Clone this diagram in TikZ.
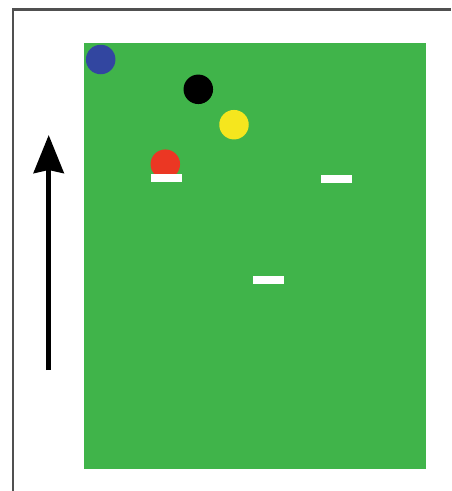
\documentclass[tikz,border=0pt]{standalone}
\usetikzlibrary{arrows.meta}
\definecolor{field}{RGB}{64,180,74}
\definecolor{ballblue}{RGB}{50,70,160}
\definecolor{ballyellow}{RGB}{245,230,30}
\definecolor{ballred}{RGB}{235,55,35}
\definecolor{framegray}{RGB}{80,80,80}
\tikzset{
  ball/.style={circle, minimum size=29.5pt, inner sep=0pt, draw=none},
  bar/.style={rectangle, fill=white, minimum width=31pt, minimum height=8pt, inner sep=0pt},
}
\begin{document}
\begin{tikzpicture}[x=1pt,y=-1pt]
\useasboundingbox (0,0) rectangle (451,491);
% frame
\draw[framegray, line width=2.6pt] (12.8,491) -- (12.8,9.6) -- (451,9.6);
% field
\fill[field] (83.5,42.5) rectangle (426,468.5);
% balls
\node[ball, fill=ballblue] (blue) at (100.7,59.5) {};
\node[ball, fill=black] (black) at (198.3,89.3) {};
\node[ball, fill=ballyellow] (yellow) at (234,124.7) {};
\node[ball, fill=ballred] (red) at (165.3,164.2) {};
% bars
\node[bar] (bar1) at (166,177.5) {};
\node[bar] (bar2) at (336.2,178.6) {};
\node[bar] (bar3) at (268.8,279.8) {};
% arrow
\coordinate (arrowstart) at (48.7,370);
\coordinate (arrowend) at (48.7,135);
\draw[line width=5pt, -{Stealth[length=38pt, width=30pt, inset=3pt]}] (arrowstart) -- (arrowend);
\end{tikzpicture}
\end{document}
